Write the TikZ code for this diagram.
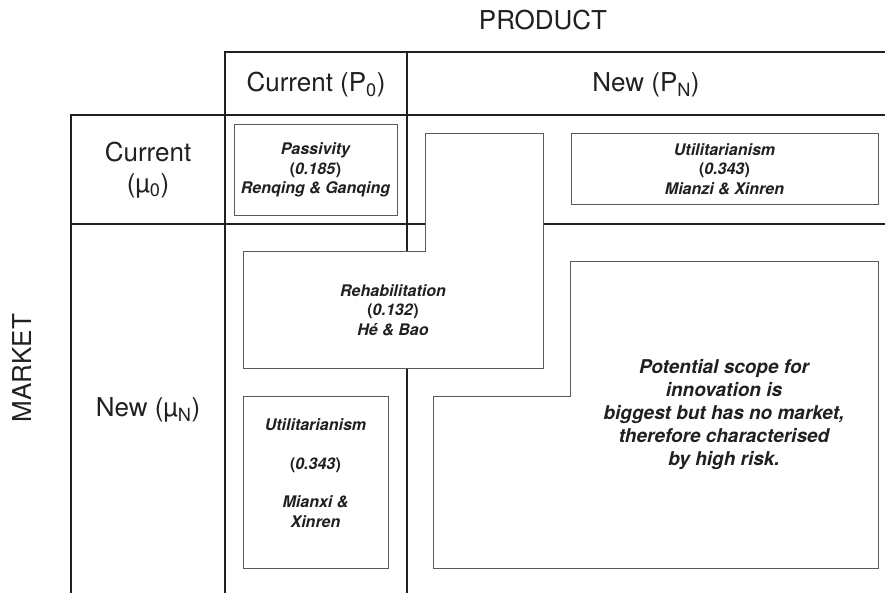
\documentclass[tikz,border=0pt]{standalone}
\usepackage{fontspec}
\setmainfont{TeX Gyre Heros}
\definecolor{ink}{HTML}{231F20}
\definecolor{frame}{HTML}{5A5A5A}
\newcommand{\val}[1]{\textup{(}#1\textup{)}}

\begin{document}
\begin{tikzpicture}[x=1pt,y=-1pt,
    grid/.style={draw=ink,line width=2pt},
    cellbox/.style={draw=frame,line width=0.9pt,fill=white},
    head/.style={text=ink,font=\fontsize{26}{31}\selectfont,align=center},
    cat/.style={text=ink,font=\fontsize{16}{19.3}\selectfont\bfseries\itshape,align=center}]
\useasboundingbox (0,0) rectangle (885,595);

        % table lines
        \draw[grid] (885,52) -- (225,52) -- (225,593);
        \draw[grid] (885,115) -- (71,115) -- (71,593);
        \draw[grid] (71,224) -- (885,224);
        \draw[grid] (407,52) -- (407,593);

        % axis and header labels
        \node[head] (product) at (543,20) {PRODUCT};
        \node[head,rotate=90] (market) at (22,368) {MARKET};
        \node[head] (pcur) at (316,85) {Current (P\textsubscript{0})};
        \node[head] (pnew) at (646,85) {New (P\textsubscript{N})};
        \node[head] (mcur) at (148,170) {Current\\(µ\textsubscript{0})};
        \node[head] (mnew) at (148,410) {New (µ\textsubscript{N})};

        % boxes
        \draw[cellbox] (234,124) rectangle (397,215);
        \node[cat] (passivity) at (315.5,170) {Passivity\\\val{0.185}\\Renqing \& Ganqing};

        \draw[cellbox] (571,133) rectangle (878,204);
        \node[cat] (util1) at (724.5,169) {Utilitarianism\\\val{0.343}\\Mianzi \& Xinren};

        \draw[cellbox] (425,133) -- (543,133) -- (543,368) -- (243,368) -- (243,251) -- (425,251) -- cycle;
        \node[cat] (rehab) at (393,310) {Rehabilitation\\\val{0.132}\\Hé \& Bao};

        \draw[cellbox] (243,396) rectangle (388,568);
        \node[cat] (util2) at (315.5,473) {Utilitarianism\\~\\\val{0.343}\\~\\Mianxi \&\\Xinren};

        \draw[cellbox] (570,261) -- (878,261) -- (878,568) -- (433,568) -- (433,396) -- (570,396) -- cycle;
        \node[cat,font=\fontsize{19}{23}\selectfont\bfseries\itshape] (scope) at (724,415)
            {Potential scope for\\innovation is\\biggest but has no market,\\therefore characterised\\by high risk.};
\end{tikzpicture}
\end{document}
